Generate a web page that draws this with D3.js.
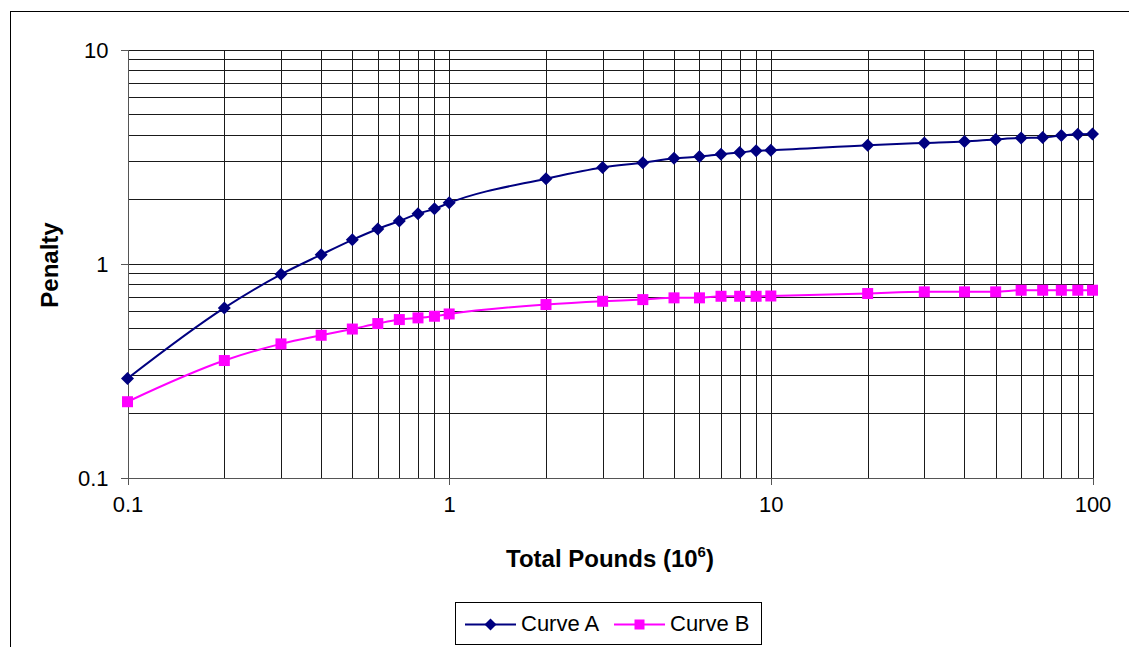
<!DOCTYPE html>
<html>
<head>
<meta charset="utf-8">
<script src="https://cdn.jsdelivr.net/npm/d3@7"></script>
<style>
  html, body { margin: 0; padding: 0; background: #fff; }
  svg { display: block; font-family: "Liberation Sans", Arial, sans-serif; }
</style>
</head>
<body>
<svg id="chart" width="1129" height="647"></svg>
<script>
const xValues = [0.1, 0.2, 0.3, 0.4, 0.5, 0.6, 0.7, 0.8, 0.9, 1, 2, 3, 4, 5, 6, 7, 8, 9, 10, 20, 30, 40, 50, 60, 70, 80, 90, 100];
const curveA = [0.29, 0.62, 0.89, 1.10, 1.29, 1.45, 1.58, 1.71, 1.80, 1.92, 2.49, 2.81, 2.96, 3.10, 3.16, 3.24, 3.30, 3.36, 3.38, 3.57, 3.66, 3.72, 3.80, 3.86, 3.88, 3.96, 4.02, 4.03];
const curveB = [0.226, 0.352, 0.421, 0.462, 0.494, 0.524, 0.547, 0.557, 0.567, 0.581, 0.643, 0.666, 0.678, 0.691, 0.691, 0.703, 0.703, 0.703, 0.705, 0.724, 0.737, 0.737, 0.737, 0.75, 0.75, 0.75, 0.75, 0.75];
const seriesNames = ["Curve A", "Curve B"];
const seriesColors = ["#000080", "#FF00FF"];
const xTickLabels = [0.1, 1, 10, 100];
const yTickLabels = [0.1, 1, 10];
const xTitle = "Total Pounds (10";
const xTitleSup = "6";
const yTitle = "Penalty";

const svg = d3.select("#chart");

// outer border
svg.append("rect").attr("x", 10.5).attr("y", 11.5).attr("width", 1140).attr("height", 660)
  .attr("fill", "none").attr("stroke", "#000").attr("stroke-width", 1);

const x = d3.scaleLog().domain([0.1, 100]).range([127.5, 1092.5]);
const y = d3.scaleLog().domain([0.1, 10]).range([477.5, 49.5]);

// minor grid values
const gridVals = [];
[0.1, 1, 10].forEach(d => { for (let k = 1; k <= 10; k++) gridVals.push(+(d * k).toPrecision(3)); });
const xGrid = Array.from(new Set(gridVals)).filter(v => v >= 0.1 && v <= 100);
const yGrid = Array.from(new Set(gridVals)).filter(v => v >= 0.1 && v <= 10);

const g = svg.append("g");
g.selectAll("line.vg").data(xGrid).enter().append("line")
  .attr("x1", d => Math.round(x(d)) + 0.5).attr("x2", d => Math.round(x(d)) + 0.5)
  .attr("y1", y(10)).attr("y2", y(0.1))
  .attr("stroke", "#1a1a1a").attr("stroke-width", 1).attr("shape-rendering", "crispEdges");
g.selectAll("line.hg").data(yGrid).enter().append("line")
  .attr("y1", d => Math.round(y(d)) + 0.5).attr("y2", d => Math.round(y(d)) + 0.5)
  .attr("x1", x(0.1)).attr("x2", x(100))
  .attr("stroke", "#1a1a1a").attr("stroke-width", 1).attr("shape-rendering", "crispEdges");

// axes
const xAxis = d3.axisBottom(x).tickValues(xTickLabels).tickFormat(d => String(d)).tickSize(7).tickPadding(12);
const yAxis = d3.axisLeft(y).tickValues(yTickLabels).tickFormat(d => String(d)).tickSize(7).tickPadding(12);
const gx = svg.append("g").attr("transform", `translate(0,${y(0.1)})`).call(xAxis);
const gy = svg.append("g").attr("transform", `translate(${x(0.1)},0)`).call(yAxis);
[gx, gy].forEach(a => {
  a.select(".domain").attr("stroke", "#555").attr("stroke-width", 1).attr("shape-rendering", "crispEdges");
  a.selectAll(".tick line").attr("stroke", "#555").attr("shape-rendering", "crispEdges");
  a.selectAll(".tick text").attr("font-size", 22).attr("fill", "#000")
    .attr("font-family", "'Liberation Sans', Arial, sans-serif");
});
gy.selectAll(".tick text").attr("dy", "0.35em");

// titles
const xt = svg.append("text").attr("x", 610).attr("y", 567).attr("text-anchor", "middle")
  .attr("font-size", 24).attr("font-weight", "bold").attr("fill", "#000");
xt.append("tspan").text(xTitle);
xt.append("tspan").attr("font-size", 15).attr("dy", -10).text(xTitleSup);
xt.append("tspan").attr("dy", 10).text(")");

svg.append("text").attr("transform", "translate(58,265) rotate(-90)").attr("text-anchor", "middle")
  .attr("font-size", 24).attr("font-weight", "bold").attr("fill", "#000").text(yTitle);

// series
const line = d3.line().x(d => x(d[0])).y(d => y(d[1])).curve(d3.curveMonotoneX);
const seriesData = [curveA, curveB].map(vals => xValues.map((xv, i) => [xv, vals[i]]));

const diamond = (cx, cy, r) => `M${cx},${cy - r}L${cx + r},${cy}L${cx},${cy + r}L${cx - r},${cy}Z`;

seriesData.forEach((pts, si) => {
  svg.append("path").attr("d", line(pts)).attr("fill", "none")
    .attr("stroke", seriesColors[si]).attr("stroke-width", 2);
  if (si === 0) {
    svg.selectAll("path.mA").data(pts).enter().append("path")
      .attr("d", d => diamond(x(d[0]), y(d[1]), 6.5)).attr("fill", seriesColors[0]);
  } else {
    svg.selectAll("rect.mB").data(pts).enter().append("rect")
      .attr("x", d => x(d[0]) - 5.5).attr("y", d => y(d[1]) - 5.5)
      .attr("width", 11).attr("height", 11).attr("fill", seriesColors[1]);
  }
});

// legend
const lg = svg.append("g");
lg.append("rect").attr("x", 455.5).attr("y", 602.5).attr("width", 306).attr("height", 42)
  .attr("fill", "#fff").attr("stroke", "#000").attr("stroke-width", 1);
const legendItems = [
  { x1: 465, x2: 516, tx: 521, name: seriesNames[0], color: seriesColors[0], shape: "diamond" },
  { x1: 614, x2: 665, tx: 670, name: seriesNames[1], color: seriesColors[1], shape: "square" }
];
legendItems.forEach(it => {
  const cy = 624.5, cx = (it.x1 + it.x2) / 2;
  lg.append("line").attr("x1", it.x1).attr("x2", it.x2).attr("y1", cy).attr("y2", cy)
    .attr("stroke", it.color).attr("stroke-width", 2);
  if (it.shape === "diamond") {
    lg.append("path").attr("d", diamond(cx, cy, 6)).attr("fill", it.color);
  } else {
    lg.append("rect").attr("x", cx - 5).attr("y", cy - 5).attr("width", 10).attr("height", 10).attr("fill", it.color);
  }
  lg.append("text").attr("x", it.tx).attr("y", 631).attr("font-size", 22).attr("fill", "#000").text(it.name);
});
</script>
</body>
</html>
